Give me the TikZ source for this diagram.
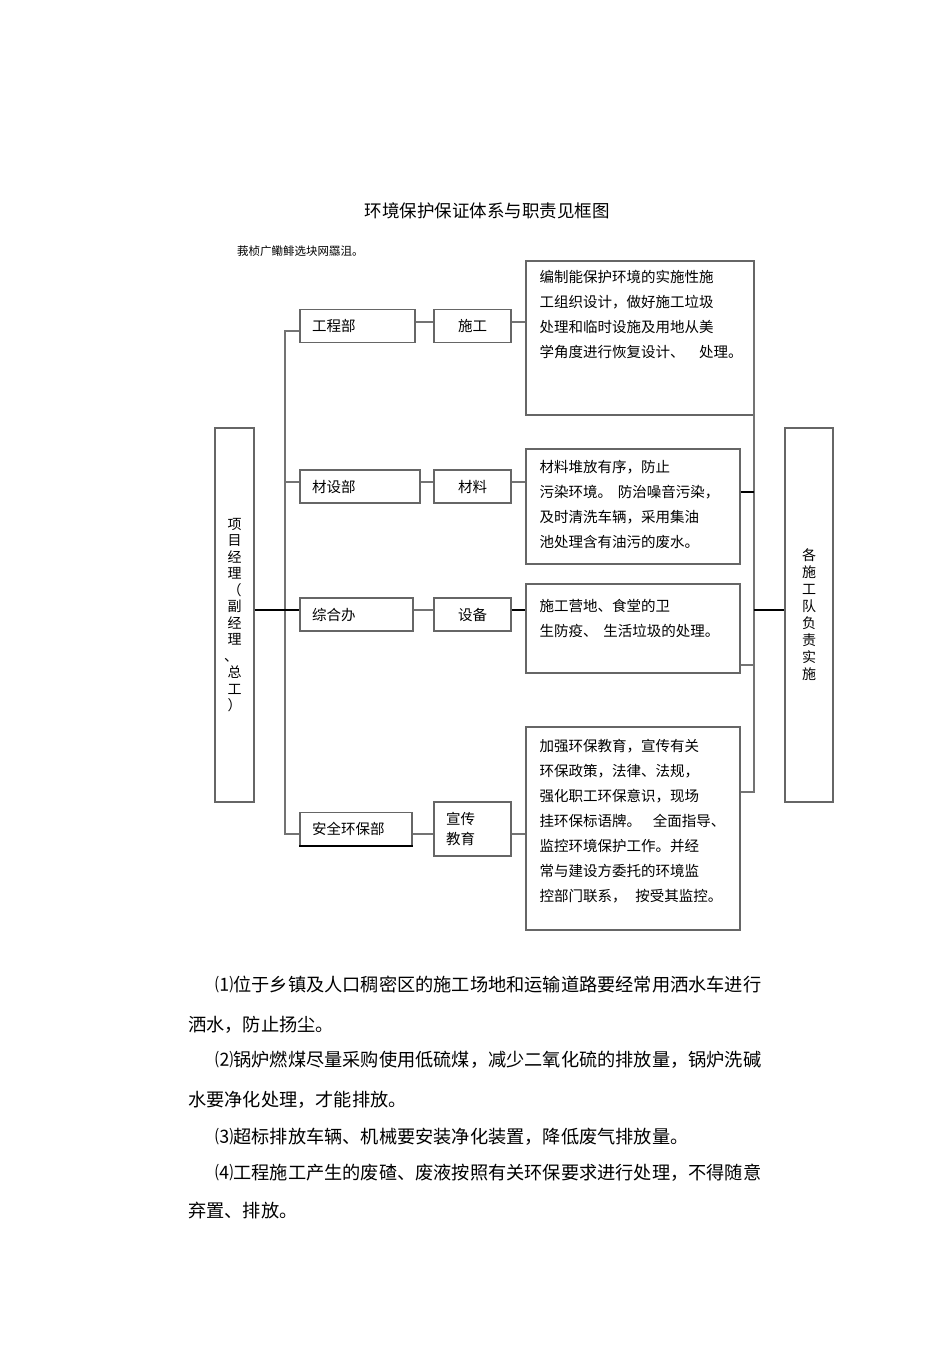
\documentclass[tikz,border=0pt]{standalone}
\usepackage{fontspec}
\setmainfont{Noto Sans CJK SC}
\usetikzlibrary{positioning}

\tikzstyle{boxline} = [draw=black!60, line width=1.1pt]
\tikzstyle{deptbox} = [boxline, minimum height=33pt, inner xsep=12pt, align=left, font=\fontsize{14.5}{17}\selectfont]
\tikzstyle{taskbox} = [boxline, minimum height=33pt, minimum width=77pt, inner xsep=12pt, font=\fontsize{14.5}{20}\selectfont]
\tikzstyle{sidebox} = [boxline, minimum height=374pt, inner sep=0pt, align=center]
\tikzstyle{dutybox} = [boxline, inner sep=0pt]
\tikzstyle{dutytext} = [anchor=north west, inner xsep=14pt, align=left, font=\fontsize{14.5}{25}\selectfont]
\tikzstyle{para} = [anchor=west, inner sep=0pt, font=\fontsize{18.2}{20}\selectfont]
\tikzstyle{link} = [draw=black!55, line width=1.3pt]
\tikzstyle{boldlink} = [draw=black, line width=1.8pt]

\begin{document}
\begin{tikzpicture}[x=1pt,y=-1pt]
\useasboundingbox[fill=white] (0,0) rectangle (950,1345);

% heading
\node[font=\fontsize{17.5}{20}\selectfont] (title) at (487,211) {环境保护保证体系与职责见框图};
\node[anchor=west, inner sep=0pt, font=\fontsize{11.5}{13}\selectfont] (note) at (237,251) {莪桢广鳓鲱选块网羉沮。};

% left and right columns
\node[sidebox, minimum width=39pt, font=\fontsize{14}{16.5}\selectfont] (pm) at (234.5,615)
    {项\\目\\经\\理\\（\\副\\经\\理\\\kern-7pt、\\总\\工\\）};
\node[sidebox, minimum width=48pt, font=\fontsize{14}{17}\selectfont] (team) at (809,615)
    {各\\施\\工\\队\\负\\责\\实\\施};

% departments
\node[deptbox, text width=91pt] (gcb) at (357.5,326) {工程部};
\node[deptbox, text width=96pt] (csb) at (360,486.5) {材设部};
\node[deptbox, text width=89pt] (zhb) at (356.5,614.5) {综合办};
\node[deptbox, text width=88pt] (aqb) at (356,829) {安全环保部};

% tasks
\node[taskbox] (sg) at (472.5,326) {施工};
\node[taskbox] (cl) at (472.5,486.5) {材料};
\node[taskbox] (sb) at (472.5,614.5) {设备};
\node[taskbox, minimum height=54pt, text width=53pt, align=left] (xc) at (472.5,829) {宣传\\教育};

% duties
\node[dutybox, minimum width=228pt, minimum height=154pt] (zz1) at (640,338) {};
\node[dutytext, inner ysep=10pt] (zt1) at (zz1.north west)
    {编制能保护环境的实施性施\\工组织设计，做好施工垃圾\\处理和临时设施及用地从美\\学角度进行恢复设计、\hspace{1em}处理。};
\node[dutybox, minimum width=214pt, minimum height=115pt] (zz2) at (633,506.5) {};
\node[dutytext, inner ysep=12pt] (zt2) at (zz2.north west)
    {材料堆放有序，防止\\污染环境。\hspace{0.4em}防治噪音污染，\\及时清洗车辆，采用集油\\池处理含有油污的废水。};
\node[dutybox, minimum width=214pt, minimum height=89pt] (zz3) at (633,628.5) {};
\node[dutytext, inner ysep=16pt] (zt3) at (zz3.north west)
    {施工营地、食堂的卫\\生防疫、\hspace{0.4em}生活垃圾的处理。};
\node[dutybox, minimum width=214pt, minimum height=203pt] (zz4) at (633,828.5) {};
\node[dutytext, inner ysep=13pt] (zt4) at (zz4.north west)
    {加强环保教育，宣传有关\\环保政策，法律、法规，\\强化职工环保意识，现场\\挂环保标语牌。\hspace{0.8em}全面指导、\\监控环境保护工作。并经\\常与建设方委托的环境监\\控部门联系，\hspace{0.6em}按受其监控。};

% connectors
\coordinate (trunk) at (285,0);
\coordinate (bus) at (754,0);
\draw[link] (gcb.west |- 0,331) -- (trunk |- 0,331) -- (trunk |- 0,834) -- (aqb.west |- 0,834);
\draw[link] (csb.west |- 0,482) -- (trunk |- 0,482);
\draw[boldlink] (pm.east |- 0,610) -- (zhb.west |- 0,610);
\draw[link] (gcb.east |- 0,322) -- (sg.west |- 0,322);
\draw[link] (sg.east |- 0,322) -- (zz1.west |- 0,322);
\draw[link] (csb.east |- 0,482) -- (cl.west |- 0,482);
\draw[link] (cl.east |- 0,482) -- (zz2.west |- 0,482);
\draw[link] (zhb.east |- 0,610) -- (sb.west |- 0,610);
\draw[boldlink] (sb.east |- 0,610) -- (zz3.west |- 0,610);
\draw[link] (aqb.east |- 0,834) -- (xc.west |- 0,834);
\draw[link] (xc.east |- 0,834) -- (zz4.west |- 0,834);
\draw[link] (bus |- 0,310) -- (bus |- 0,792) -- (zz4.east |- 0,792);
\draw[boldlink] (zz2.east |- 0,492) -- (bus |- 0,492);
\draw[link] (zz3.east |- 0,665) -- (bus |- 0,665);
\draw[boldlink] (bus |- 0,610) -- (team.west |- 0,610);
\draw[boldlink] (aqb.south west) -- (aqb.south east);

% text below the chart
\node[para] (p1a) at (215,985) {⑴位于乡镇及人口稠密区的施工场地和运输道路要经常用洒水车进行};
\node[para] (p1b) at (188,1025) {洒水，防止扬尘。};
\node[para] (p2a) at (215,1060) {⑵锅炉燃煤尽量采购使用低硫煤，减少二氧化硫的排放量，锅炉洗碱};
\node[para] (p2b) at (188,1100) {水要净化处理，才能排放。};
\node[para] (p3a) at (215,1137) {⑶超标排放车辆、机械要安装净化装置，降低废气排放量。};
\node[para] (p4a) at (215,1173) {⑷工程施工产生的废碴、废液按照有关环保要求进行处理，不得随意};
\node[para] (p4b) at (188,1211) {弃置、排放。};
\end{tikzpicture}
\end{document}
